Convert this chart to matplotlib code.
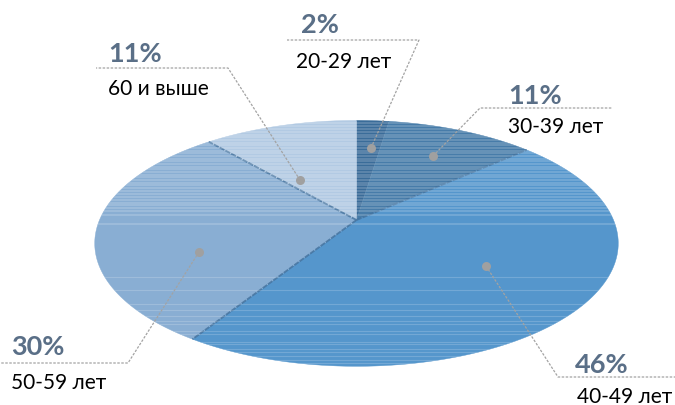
#=============================================================================
# Age groups pie, tilted view with callout labels
#=============================================================================

import numpy as N
import matplotlib
matplotlib.use("Agg")
import matplotlib.pyplot as plt
from matplotlib.patches import Polygon

plt.rcParams['font.family'] = ['Lato', 'DejaVu Sans']

#- Data, clockwise from the top of the pie
AGE_GROUPS = ["20-29 лет", "30-39 лет", "40-49 лет", "50-59 лет", "60 и выше"]
SHARES = [2.4, 11.0, 45.6, 29.6, 11.4]
PCT_LABELS = ["2%", "11%", "46%", "30%", "11%"]

COLORS = ["#3a6c99", "#477ca9", "#5596cc", "#89aed3", "#b2cae3"]
SEAM = "#41709c"
PCT_COLOR = "#5a6f87"
LEADER = "#a3a3a3"

#- Pie geometry in pixels
APEX_X, APEX_Y = 356.5, 221.0
RX, RY, TILT = 257.0, 118.5, 0.19

#- Callouts: dot, elbow, end of the rule, percent text, group text (baselines)
CALLOUTS = [
    ((371, 149), (419, 41), (287, 41), (301, 33), (296, 68)),
    ((433, 157), (480, 109), (612, 109), (508, 104), (508, 133)),
    ((486, 267), (558, 378), (675, 378), (575, 373), (577, 403)),
    ((199, 253), (128, 364), (0, 364), (11, 355), (11, 389)),
    ((300, 181), (228, 69), (96, 69), (108, 62), (108, 95)),
]

#- Rows where the picture has pale banding
BAND_ROWS = [124, 127, 130, 133, 136, 138, 141, 144, 146, 149, 152, 154, 157,
             160, 162, 165, 168, 170, 173, 176, 178, 181, 184, 186, 189, 192,
             195, 198, 201, 204, 206, 209, 212, 216, 225]
BAND_ROWS_LOW = [278, 291, 305, 311, 317, 322, 325, 332, 335, 343, 345, 350,
                 353, 357, 361, 364]


def project(theta):
    """Tilt points of the unit circle, theta clockwise from the top."""
    x = N.sin(theta)
    y = N.cos(theta)
    d = 1.0 + TILT * y
    return N.column_stack((APEX_X + RX * x / d, APEX_Y - RY * y / d))


def main():
    fig = plt.figure(figsize=(6.75, 4.06), dpi=100)
    ax = fig.add_axes([0, 0, 1, 1])
    ax.set_xlim(0, 675)
    ax.set_ylim(406, 0)
    ax.axis("off")

    edges = N.concatenate(([0.0], N.cumsum(SHARES))) / float(sum(SHARES))
    edges = edges * 2.0 * N.pi

    for i in range(len(SHARES)):
        theta = N.linspace(edges[i], edges[i + 1], 120)
        pts = N.vstack(([[APEX_X, APEX_Y]], project(theta)))
        ax.add_patch(Polygon(pts, closed=True, fc=COLORS[i], ec=COLORS[i],
                             lw=0.3, zorder=2))

    #- Darker seams between some of the slices
    for i in [2, 3, 4]:
        rim = project(N.array([edges[i]]))[0]
        ax.plot([APEX_X, rim[0]], [APEX_Y, rim[1]], color=SEAM, lw=1.3,
                alpha=0.8, ls=(0, (3, 0.6)), zorder=3)

    #- Horizontal banding, clipped to the pie outline
    outline = Polygon(project(N.linspace(0, 2 * N.pi, 360)), closed=True,
                      fc="none", ec="none", zorder=1)
    ax.add_patch(outline)
    for row in BAND_ROWS:
        ln = ax.plot([90, 625], [row, row], color="white", lw=1.2,
                     alpha=0.2, zorder=4)[0]
        ln.set_clip_path(outline)
    for row in BAND_ROWS_LOW:
        ln = ax.plot([90, 625], [row, row], color="white", lw=0.8,
                     alpha=0.18, zorder=4)[0]
        ln.set_clip_path(outline)

    #- Callouts
    for i in range(len(CALLOUTS)):
        dot, elbow, end, pct_xy, name_xy = CALLOUTS[i]
        ax.plot([dot[0], elbow[0], end[0]], [dot[1], elbow[1], end[1]],
                color=LEADER, lw=0.9, ls=(0, (2, 1.2)), zorder=5)
        ax.plot(dot[0], dot[1], "o", color="#a0a0a0", ms=6.5, mew=0, zorder=6)
        ax.text(pct_xy[0], pct_xy[1], PCT_LABELS[i], color=PCT_COLOR,
                fontsize=19.5, fontweight="bold", va="baseline", ha="left",
                zorder=7)
        ax.text(name_xy[0], name_xy[1], AGE_GROUPS[i], color="black",
                fontsize=15, va="baseline", ha="left", zorder=7)

    fig.savefig("out.png", dpi=100)


if __name__ == "__main__":
    main()
